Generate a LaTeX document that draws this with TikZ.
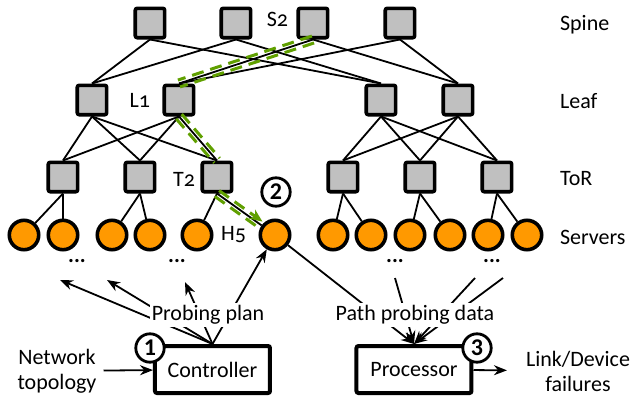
\documentclass[tikz,border=0pt]{standalone}
\usepackage{fontspec}
\setmainfont{Carlito}[Numbers=OldStyle]
\newfontfamily\numfont{Carlito}[Numbers=Lining]
\usetikzlibrary{positioning,calc,arrows.meta}
\definecolor{swgray}{RGB}{192,192,192}
\definecolor{srvorange}{RGB}{255,153,0}
\definecolor{probegreen}{RGB}{96,160,0}

\begin{document}
\begin{tikzpicture}
    [   x=0.5pt, y=-0.5pt,
        font=\fontsize{11}{12.5}\selectfont,
        switch/.style={draw=black,fill=swgray,line width=1.8pt,rounded corners=1pt,minimum size=14.7pt,inner sep=0pt},
        server/.style={draw=black,fill=srvorange,line width=1.8pt,circle,minimum size=14.7pt,inner sep=0pt},
        link/.style={line width=0.9pt},
        probe/.style={draw=probegreen,line width=1.5pt,dash pattern=on 6pt off 3.5pt},
        flow/.style={line width=0.9pt,-{Stealth[length=6.5pt,width=5pt]}},
        box/.style={draw=black,line width=2pt,rounded corners=1pt,minimum width=57.5pt,minimum height=23.5pt},
        stepnum/.style={draw=black,fill=white,circle,line width=1.4pt,minimum size=14.2pt,inner sep=0pt,font=\numfont\bfseries\fontsize{12}{12}\selectfont},
        tag/.style={inner sep=1pt},
    ]
        \useasboundingbox (0,0) rectangle (634,398);

        % switches and servers
        \foreach \x [count=\i] in {150,236,313,400}
            \node[switch] (s\i) at (\x,23) {};
        \foreach \x [count=\i] in {92,179,381,458}
            \node[switch] (l\i) at (\x,100) {};
        \foreach \x [count=\i] in {63,140,217,343,420,497}
            \node[switch] (t\i) at (\x,177) {};
        \foreach \x [count=\i] in {24,63,112,150,197,275,333,371,410,450,488,527}
            \node[server] (h\i) at (\x,235) {};

        % links
        \foreach \a/\b in {s1/l1,s1/l3,s2/l1,s2/l3,s3/l2,s3/l4,s4/l2,s4/l4}
            \draw[link] (\a.south) -- (\b.north);
        \foreach \a/\b in {l1/t1,l1/t2,l1/t3,l2/t1,l2/t2,l2/t3,l3/t4,l3/t5,l3/t6,l4/t4,l4/t5,l4/t6}
            \draw[link] (\a.south) -- (\b.north);
        \foreach \a/\b in {t1/h1,t1/h2,t2/h3,t2/h4,t3/h5,t3/h6,t4/h7,t4/h8,t5/h9,t5/h10,t6/h11,t6/h12}
            \draw[link] (\a.south) -- (\b);

        % probe path S2 - L1 - T2 - H5
        \foreach \a/\b in {s3.south/l2.north,l2.south/t3.north}
            \foreach \o/\p in {90/-90,-90/90}
                \draw[probe] ($(\a)!1.8pt!\o:(\b)$) -- ($(\b)!1.8pt!\p:(\a)$);
        \draw[probe,shorten >=9.5pt] ($(t3.south)!1.8pt!-90:(h6)$) -- ($(h6)!1.8pt!90:(t3.south)$);
        \draw[probe,shorten >=9pt,-{Stealth[length=6.5pt,width=5.5pt]}] ($(t3.south)!1.8pt!90:(h6)$) -- ($(h6)!1.8pt!-90:(t3.south)$);

        \node[tag,left=3pt of s3,yshift=2pt] (s2lab) {S2};
        \node[tag,left=5pt of l2] (l1lab) {L1};
        \node[tag,left=1.5pt of t3,yshift=-1pt] (t2lab) {T2};
        \node[tag,left=5pt of h6] (h5lab) {H5};

        \node[anchor=west] (spine) at (553,25) {Spine};
        \node[anchor=west] (leaf) at (553,101) {Leaf};
        \node[anchor=west] (tor) at (553,179) {ToR};
        \node[anchor=west] (servers) at (553,237) {Servers};

        \foreach \x [count=\i] in {77,177,395,492}
            \node[tag,font=\bfseries\fontsize{11}{12}\selectfont] (dots\i) at (\x,261) {...};

        % controller side
        \node[box] (ctrl) at (212.5,369.5) {Controller};
        \coordinate (p1) at (60,280);
        \coordinate (p2) at (107,280);
        \coordinate (p3) at (185,282);
        \foreach \c in {p1,p2,p3,h6}
            \draw[flow] (ctrl.north) -- (\c);
        \node[fill=white,inner sep=1pt] (plan) at (208,315) {Probing plan};
        \node[align=center] (topo) at (57,371) {Network\\topology};
        \draw[flow] (topo) -- (ctrl);

        % processor side
        \node[box] (proc) at (414,369.5) {Processor};
        \coordinate (d1) at (395,278);
        \coordinate (d2) at (475,278);
        \coordinate (d3) at (503,278);
        \foreach \c in {h6,d1,d2,d3}
            \draw[flow] (\c) -- (proc.north);
        \node[fill=white,inner sep=1pt] (data) at (415,315) {Path probing data};
        \node[align=center] (fail) at (578,371) {Link/Device\\failures};
        \draw[flow,shorten >=6pt] (proc) -- (fail);

        \node[stepnum] (n1) at (150,348) {1};
        \node[stepnum] (n2) at (276,192) {2};
        \node[stepnum] (n3) at (477,348) {3};
    \end{tikzpicture}
\end{document}
